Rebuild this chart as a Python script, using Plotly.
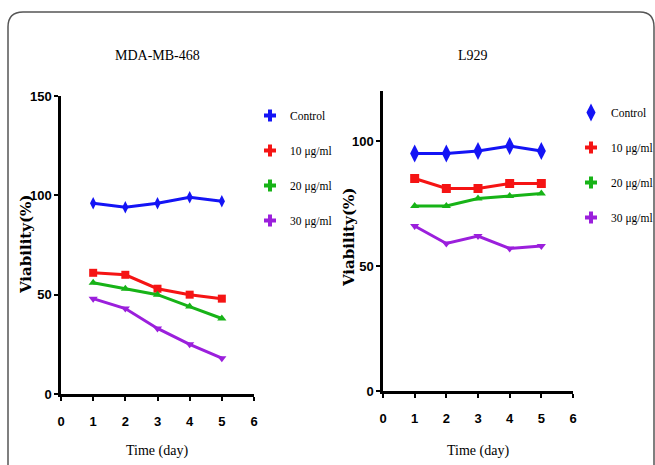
import plotly.graph_objects as go

W, H = 655, 465

days = [1, 2, 3, 4, 5]
series_names = ["Control", "10 μg/ml", "20 μg/ml", "30 μg/ml"]

mda_control = [96, 94, 96, 99, 97]
mda_10 = [61, 60, 53, 50, 48]
mda_20 = [56, 53, 50, 44, 38]
mda_30 = [48, 43, 33, 25, 18]

l929_control = [95, 95, 96, 98, 96]
l929_10 = [85, 81, 81, 83, 83]
l929_20 = [74, 74, 77, 78, 79]
l929_30 = [66, 59, 62, 57, 58]

x_ticks = [0, 1, 2, 3, 4, 5, 6]
mda_y_ticks = [0, 50, 100, 150]
l929_y_ticks = [0, 50, 100]

colors = ["#1414f5", "#f51414", "#17b317", "#9b1fdc"]


def px(x):
    return x / W


def py(y):
    return 1 - y / H


fig = go.Figure()

left_symbols = ["diamond-tall", "square", "triangle-up", "triangle-down"]
left_sizes = [9, 8, 8, 8]
right_symbols = ["diamond-tall", "square", "triangle-up", "triangle-down"]
right_sizes = [13, 9, 8, 8]

mda = [mda_control, mda_10, mda_20, mda_30]
l929 = [l929_control, l929_10, l929_20, l929_30]

for i, (name, vals) in enumerate(zip(series_names, mda)):
    fig.add_trace(go.Scatter(
        x=days, y=vals, mode="lines+markers", name=name, showlegend=False,
        line=dict(color=colors[i], width=3),
        marker=dict(symbol=left_symbols[i], size=left_sizes[i], color=colors[i]),
        xaxis="x", yaxis="y"))
    fig.add_trace(go.Scatter(
        x=[None], y=[None], mode="markers", name=name, legend="legend",
        legendgroup="a%d" % i,
        marker=dict(symbol="cross", size=10, color=colors[i]),
        xaxis="x", yaxis="y"))

for i, (name, vals) in enumerate(zip(series_names, l929)):
    fig.add_trace(go.Scatter(
        x=days, y=vals, mode="lines+markers", name=name, showlegend=False,
        line=dict(color=colors[i], width=3),
        marker=dict(symbol=right_symbols[i], size=right_sizes[i], color=colors[i]),
        xaxis="x2", yaxis="y2"))
    fig.add_trace(go.Scatter(
        x=[None], y=[None], mode="markers", name=name, legend="legend2",
        legendgroup="b%d" % i,
        marker=dict(symbol="diamond-tall" if i == 0 else "cross",
                    size=13 if i == 0 else 10, color=colors[i]),
        xaxis="x2", yaxis="y2"))

tick_font = dict(family="Liberation Sans, Arial, sans-serif",
                 size=13, color="black", weight="bold")
axis_common = dict(showgrid=False, zeroline=False, showline=True, linecolor="black",
                   linewidth=2.5, ticks="outside", ticklen=4, tickwidth=2,
                   tickcolor="black", tickfont=tick_font, automargin=False)

serif = "Liberation Serif, Times New Roman, serif"

fig.update_layout(
    width=W, height=H,
    margin=dict(l=0, r=0, t=0, b=0, pad=0, autoexpand=False),
    paper_bgcolor="white", plot_bgcolor="white",
    xaxis=dict(domain=[px(61), px(254)], range=[0, 6], tickvals=x_ticks,
               anchor="y", ticklabelstandoff=10, **axis_common),
    yaxis=dict(domain=[py(394), py(96)], range=[0, 150], tickvals=mda_y_ticks,
               anchor="x", **axis_common),
    xaxis2=dict(domain=[px(383), px(573)], range=[0, 6], tickvals=x_ticks,
                anchor="y2", ticklabelstandoff=10, **axis_common),
    yaxis2=dict(domain=[py(391), py(91)], range=[0, 120], tickvals=l929_y_ticks,
                anchor="x2", **axis_common),
    legend=dict(x=px(250), y=py(101), xanchor="left", yanchor="top",
                bgcolor="rgba(0,0,0,0)", tracegroupgap=16,
                font=dict(family=serif, size=11.5, color="black")),
    legend2=dict(x=px(571), y=py(98), xanchor="left", yanchor="top",
                 bgcolor="rgba(0,0,0,0)", tracegroupgap=16,
                 font=dict(family=serif, size=11.5, color="black")),
)

annots = [
    dict(text="MDA-MB-468", x=px(157), y=py(55), size=14, bold=False, angle=0, fam=serif),
    dict(text="L929", x=px(473), y=py(55), size=14, bold=False, angle=0, fam=serif),
    dict(text="Time (day)", x=px(157), y=py(451), size=14, bold=False, angle=0, fam=serif),
    dict(text="Time (day)", x=px(478), y=py(451), size=14, bold=False, angle=0, fam=serif),
    dict(text="Viability(%)", x=px(26), y=py(245), size=15, bold=True, angle=-90,
         fam="DejaVu Serif, Liberation Serif, serif"),
    dict(text="Viability(%)", x=px(349), y=py(238), size=15, bold=True, angle=-90,
         fam="DejaVu Serif, Liberation Serif, serif"),
]
for a in annots:
    fig.add_annotation(
        text=a["text"], x=a["x"], y=a["y"], xref="paper", yref="paper",
        xanchor="center", yanchor="middle", showarrow=False, textangle=a["angle"],
        font=dict(family=a["fam"], size=a["size"], color="black",
                  weight="bold" if a["bold"] else "normal"))

# rounded frame
path = ("M {x0},{yb} L {x0},{y1} Q {x0},{yt} {x2},{yt} L {x3},{yt} "
        "Q {xr},{yt} {xr},{y1} L {xr},{yb}").format(
    x0=px(8), yb=py(480), y1=py(27), yt=py(12), x2=px(23), x3=px(640), xr=px(654))
fig.add_shape(type="path", path=path, xref="paper", yref="paper",
              line=dict(color="#555555", width=1.5))

post = "document.body.style.margin='0';document.body.style.overflow='hidden';"
fig.write_html("out.html", config={"displayModeBar": False}, post_script=post)
